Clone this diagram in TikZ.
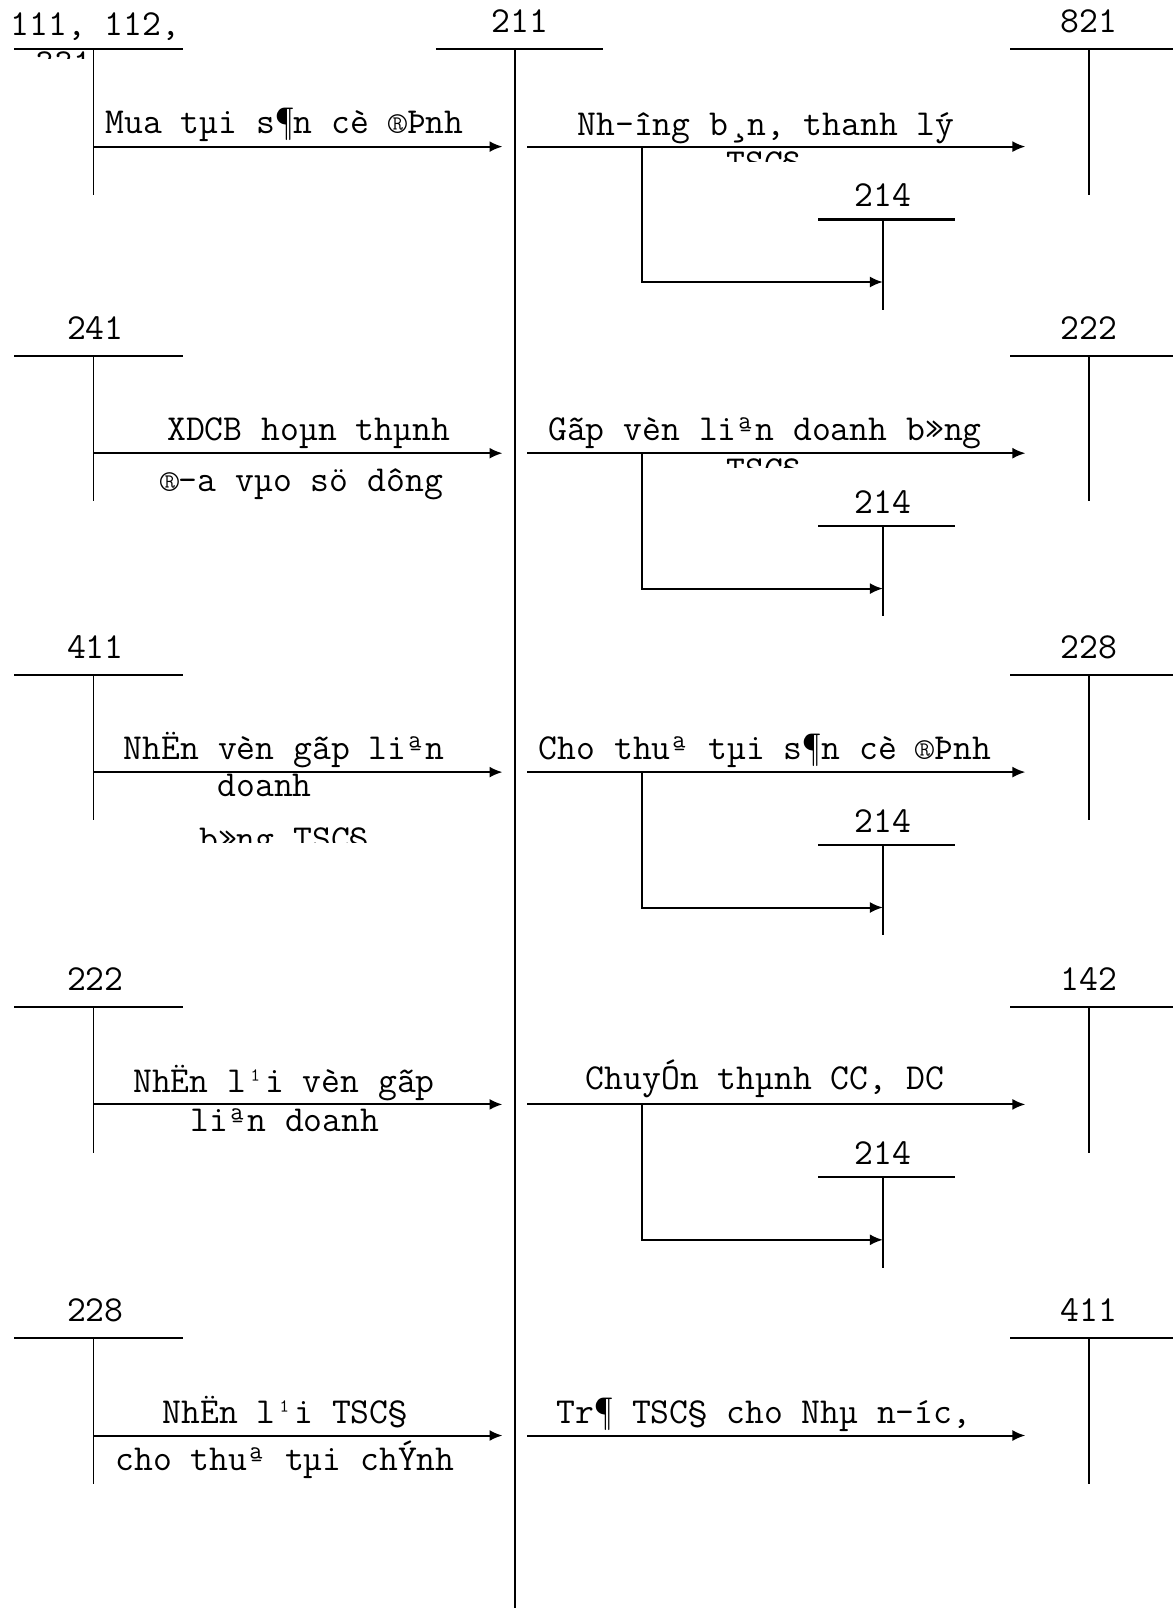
\documentclass[tikz,border=0pt]{standalone}
\usepackage{fontspec}
\setmainfont{Latin Modern Mono}
\usetikzlibrary{arrows.meta}
\tikzset{
  acct/.style={anchor=base, inner sep=0pt, font=\fontsize{18.3}{21}\selectfont},
  lbl/.style={anchor=base, inner sep=0pt, font=\fontsize{18.3}{21}\selectfont},
  tbar/.style={line width=1.2pt},
  tstem/.style={line width=0.8pt},
  flow/.style={-{Latex[length=6.5pt,width=5.5pt]}, line width=1pt},
}

\begin{document}
\begin{tikzpicture}[x=0.5pt, y=-0.5pt]
  \useasboundingbox (0,0) rectangle (1173,1608);
  % account 211
  \node[acct] (t211) at (520,32.8) {211};
  \draw[tbar] (435.8,49.2) -- (603,49.2);
  \draw[tstem] (514.8,49.2) -- (514.8,1608);

  % row 1
  \node[acct, anchor=base west] (lt1) at (10.3,35) {111, 112,};
  \begin{scope}
    \clip (0,50) rectangle (183,58.5);
    \node[lbl] (lt1b) at (64,74) {331};
  \end{scope}
  \draw[tbar] (14.4,49.2) -- (182.5,49.2);
  \draw[tstem] (93.3,49.2) -- (93.3,194.8);
  \node[acct] (rt1) at (1089,32.8) {821};
  \draw[tbar] (1010,49.2) -- (1173,49.2);
  \draw[tstem] (1089,49.2) -- (1089,194.8);
  \coordinate (la1) at (93.3,146.6);
  \coordinate (lb1) at (502.5,146.6);
  \coordinate (ra1) at (527,146.6);
  \coordinate (rb1) at (1025.4,146.6);
  \draw[flow] (la1) -- (lb1);
  \draw[flow] (ra1) -- (rb1);
  \node[lbl] (m1) at (284.5,133.3) {Mua tµi s¶n cè ®Þnh};
  \node[lbl] (n1) at (766,135.4) {Nh-îng b¸n, thanh lý};
  \begin{scope}
    \clip (527,148) rectangle (1000,161);
    \node[lbl] (n1b) at (764,174) {TSC§};
  \end{scope}
  \node[acct] (d1) at (882.9,206.9) {214};
  \draw[tbar] (818.3,219.4) -- (954.7,219.4);
  \draw[tstem] (882.9,219.4) -- (882.9,309.7);
  \coordinate (s1) at (641.9,146.6);
  \coordinate (e1) at (641.9,282.0);
  \draw[flow] (s1) -- (e1) -- (882.9,282.0);

  % row 2
  \node[acct] (lt2) at (95.4,339.4) {241};
  \draw[tbar] (14.4,355.8) -- (182.5,355.8);
  \draw[tstem] (93.3,355.8) -- (93.3,501.4);
  \node[acct] (rt2) at (1089,339.4) {222};
  \draw[tbar] (1010,355.8) -- (1173,355.8);
  \draw[tstem] (1089,355.8) -- (1089,501.4);
  \coordinate (la2) at (93.3,453.2);
  \coordinate (lb2) at (502.5,453.2);
  \coordinate (ra2) at (527,453.2);
  \coordinate (rb2) at (1025.4,453.2);
  \draw[flow] (la2) -- (lb2);
  \draw[flow] (ra2) -- (rb2);
  \node[lbl] (m2) at (308.6,440.9) {XDCB hoµn thµnh};
  \node[lbl] (m2b) at (301.5,491.2) {®-a vµo sö dông};
  \node[lbl] (n2) at (765,440.9) {Gãp vèn liªn doanh b»ng};
  \begin{scope}
    \clip (527,455) rectangle (1000,467);
    \node[lbl] (n2b) at (764,481.4) {TSC§};
  \end{scope}
  \node[acct] (d2) at (882.9,513.5) {214};
  \draw[tbar] (818.3,526.0) -- (954.7,526.0);
  \draw[tstem] (882.9,526.0) -- (882.9,616.3);
  \coordinate (s2) at (641.9,453.2);
  \coordinate (e2) at (641.9,588.6);
  \draw[flow] (s2) -- (e2) -- (882.9,588.6);

  % row 3
  \node[acct] (lt3) at (95.4,658.3) {411};
  \draw[tbar] (14.4,674.7) -- (182.5,674.7);
  \draw[tstem] (93.3,674.7) -- (93.3,820.3);
  \node[acct] (rt3) at (1089,658.3) {228};
  \draw[tbar] (1010,674.7) -- (1173,674.7);
  \draw[tstem] (1089,674.7) -- (1089,820.3);
  \coordinate (la3) at (93.3,772.1);
  \coordinate (lb3) at (502.5,772.1);
  \coordinate (ra3) at (527,772.1);
  \coordinate (rb3) at (1025.4,772.1);
  \draw[flow] (la3) -- (lb3);
  \draw[flow] (ra3) -- (rb3);
  \node[lbl] (m3) at (284,759.8) {NhËn vèn gãp liªn};
  \node[lbl] (m3b) at (264.6,796.7) {doanh};
  \begin{scope}
    \clip (95,820) rectangle (500,842);
    \node[lbl] (m3c) at (284,850) {b»ng TSC§};
  \end{scope}
  \node[lbl] (n3) at (765,759.8) {Cho thuª tµi s¶n cè ®Þnh};
  \node[acct] (d3) at (882.9,832.4) {214};
  \draw[tbar] (818.3,844.9) -- (954.7,844.9);
  \draw[tstem] (882.9,844.9) -- (882.9,935.2);
  \coordinate (s3) at (641.9,772.1);
  \coordinate (e3) at (641.9,907.5);
  \draw[flow] (s3) -- (e3) -- (882.9,907.5);

  % row 4
  \node[acct] (lt4) at (95.4,990.6) {222};
  \draw[tbar] (14.4,1007.0) -- (182.5,1007.0);
  \draw[tstem] (93.3,1007.0) -- (93.3,1152.6);
  \node[acct] (rt4) at (1089,990.6) {142};
  \draw[tbar] (1010,1007.0) -- (1173,1007.0);
  \draw[tstem] (1089,1007.0) -- (1089,1152.6);
  \coordinate (la4) at (93.3,1104.4);
  \coordinate (lb4) at (502.5,1104.4);
  \coordinate (ra4) at (527,1104.4);
  \coordinate (rb4) at (1025.4,1104.4);
  \draw[flow] (la4) -- (lb4);
  \draw[flow] (ra4) -- (rb4);
  \node[lbl] (m4) at (284,1092.1) {NhËn l¹i vèn gãp};
  \node[lbl] (m4b) at (285,1131) {liªn doanh};
  \node[lbl] (n4) at (765,1089) {ChuyÓn thµnh CC, DC};
  \node[acct] (d4) at (882.9,1164.7) {214};
  \draw[tbar] (818.3,1177.2) -- (954.7,1177.2);
  \draw[tstem] (882.9,1177.2) -- (882.9,1267.5);
  \coordinate (s4) at (641.9,1104.4);
  \coordinate (e4) at (641.9,1239.8);
  \draw[flow] (s4) -- (e4) -- (882.9,1239.8);

  % row 5
  \node[acct] (lt5) at (95.4,1321.7) {228};
  \draw[tbar] (14.4,1338.1) -- (182.5,1338.1);
  \draw[tstem] (93.3,1338.1) -- (93.3,1483.7);
  \node[acct] (rt5) at (1089,1321.7) {411};
  \draw[tbar] (1010,1338.1) -- (1173,1338.1);
  \draw[tstem] (1089,1338.1) -- (1089,1483.7);
  \coordinate (la5) at (93.3,1435.5);
  \coordinate (lb5) at (502.5,1435.5);
  \coordinate (ra5) at (527,1435.5);
  \coordinate (rb5) at (1025.4,1435.5);
  \draw[flow] (la5) -- (lb5);
  \draw[flow] (ra5) -- (rb5);
  \node[lbl] (m5) at (285,1423.3) {NhËn l¹i TSC§};
  \node[lbl] (m5b) at (285,1470.4) {cho thuª tµi chÝnh};
  \node[lbl] (n5) at (764,1423.3) {Tr¶ TSC§ cho Nhµ n-íc,};
\end{tikzpicture}
\end{document}
